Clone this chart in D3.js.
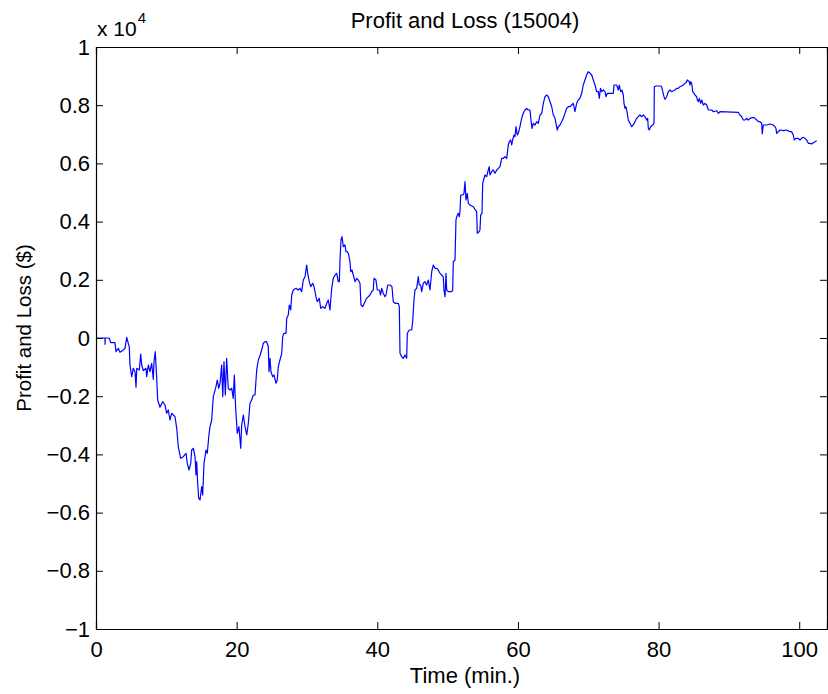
<!DOCTYPE html>
<html>
<head>
<meta charset="utf-8">
<script src="https://cdn.jsdelivr.net/npm/d3@7"></script>
<style>
  html, body { margin: 0; padding: 0; background: #fff; }
  svg { display: block; }
  text { font-family: "Liberation Sans", Arial, Helvetica, sans-serif; fill: #000; }
</style>
</head>
<body>
<svg id="chart" width="828" height="694"></svg>
<script>
const titleText = "Profit and Loss (15004)";
const xLabelText = "Time (min.)";
const yLabelText = "Profit and Loss ($)";
const xTicks = [0, 20, 40, 60, 80, 100];
const yTicks = [-10000, -8000, -6000, -4000, -2000, 0, 2000, 4000, 6000, 8000, 10000];
const xDomain = [0, 103.95];
const yDomain = [-10000, 10000];

// time (minutes)
const time = [
0,1.28,1.28,1.32,1.89,2.09,2.70,2.84,3.17,3.41,3.88,4.12,4.37,4.59,4.73,4.83,5.08,5.30,5.55,5.69,
5.79,6.16,6.36,6.50,6.73,7.11,7.21,7.44,7.68,7.92,8.15,8.25,8.43,8.63,8.77,9.10,9.48,9.81,10.05,10.28,
10.52,10.76,11.23,11.48,11.70,12.04,12.41,12.80,12.98,13.22,13.47,13.61,13.84,14.08,14.22,14.32,14.46,14.60,14.79,15.03,
15.17,15.36,15.64,15.83,16.03,16.21,16.45,16.68,17.06,17.25,17.45,17.63,17.87,18.02,18.20,18.39,18.58,18.81,19.05,19.30,
19.52,19.67,19.86,20.09,20.33,20.58,20.72,20.95,21.19,21.43,21.66,21.90,22.14,22.37,22.61,22.85,23.08,23.32,23.56,23.79,
24.03,24.27,24.50,24.60,24.74,24.88,25.13,25.31,25.60,25.78,25.92,26.16,26.41,26.55,26.73,27.02,27.12,27.34,27.49,27.69,
27.83,28.06,28.44,28.77,29.01,29.25,29.48,29.72,29.96,30.10,30.33,30.53,30.81,31.00,31.28,31.47,31.75,31.95,32.24,32.56,
32.81,33.03,33.27,33.52,33.74,33.99,34.23,34.45,34.60,34.70,34.84,34.98,35.17,35.41,35.55,35.73,35.88,36.12,36.22,36.40,
36.59,36.83,37.07,37.30,37.54,37.68,37.92,38.25,38.49,38.96,39.20,39.43,39.53,39.81,40.00,40.29,40.48,40.62,40.85,41.09,
41.24,41.48,41.81,42.09,42.27,42.52,42.99,43.13,43.23,43.47,43.70,43.94,44.18,44.27,44.55,44.89,45.03,45.22,45.36,45.60,
45.83,45.97,46.17,46.31,46.54,46.78,47.02,47.25,47.49,47.74,47.96,48.21,48.45,48.67,48.92,49.38,49.48,49.63,49.77,49.87,
50.10,50.58,50.72,50.81,51.05,51.19,51.29,51.52,51.66,51.76,51.86,52.14,52.33,52.47,52.61,52.80,52.94,53.18,53.65,53.89,
54.13,54.22,54.46,54.60,54.70,54.89,54.99,55.31,55.56,55.78,55.92,56.02,56.27,56.49,56.74,56.98,57.21,57.45,57.69,57.92,
58.16,58.40,58.49,58.63,58.77,58.97,59.11,59.25,59.44,59.58,59.72,59.91,60.05,60.29,60.53,60.67,60.86,61.00,61.24,61.47,
61.71,61.86,62.00,62.18,62.42,62.67,62.89,63.14,63.38,63.61,63.85,64.09,64.32,64.56,64.80,65.03,65.27,65.41,65.60,65.74,
65.98,66.22,66.45,66.69,66.93,67.16,67.40,67.64,67.87,68.11,68.35,68.58,68.82,69.06,69.29,69.53,69.77,70.00,70.25,70.49,
70.72,70.96,71.20,71.43,71.57,71.74,71.91,72.14,72.38,72.52,72.71,73.09,73.56,73.66,74.04,74.27,74.41,74.61,74.80,74.98,
75.08,75.22,75.36,75.55,75.69,75.93,76.17,76.40,76.64,76.88,77.11,77.35,77.60,77.83,78.07,78.31,78.45,78.54,78.68,78.88,
79.16,79.35,79.40,79.64,79.96,80.30,80.44,80.59,80.77,80.91,81.15,81.38,81.62,81.86,82.09,82.33,82.57,82.80,83.04,83.28,
83.52,83.76,83.90,84.08,84.37,84.47,84.57,84.71,84.85,85.04,85.18,85.42,85.51,85.65,85.79,85.99,86.14,86.37,86.61,86.85,
87.08,87.56,87.79,88.27,88.50,88.73,91.33,91.57,91.82,92.05,92.29,92.53,92.76,93.00,93.47,93.71,93.95,94.18,94.42,94.66,
94.74,94.89,95.36,95.84,96.31,96.55,96.69,96.79,97.02,97.26,97.73,98.21,98.68,98.92,99.15,99.29,99.53,99.86,100.10,100.34,
100.57,100.82,101.06,101.29,101.53,101.77,102.00,102.24,102.48
];

// profit and loss ($)
const pnl = [
0,0,-216,0,0,-160,-160,-470,-354,-491,-412,-354,24,-182,-299,-928,-1330,-1041,-1158,-1694,
-1041,-1100,-550,-928,-1124,-1041,-1330,-928,-1158,-869,-1419,-814,-471,-1385,-2130,-2381,-2189,-2302,-2587,-2474,
-2818,-2587,-2704,-3103,-3735,-4134,-4079,-3962,-4306,-4536,-4306,-3849,-3790,-4079,-4708,-4251,-4993,-5508,-5567,-5110,
-5395,-4306,-3849,-3962,-3392,-3048,-2818,-2017,-1673,-1443,-1728,-1557,-928,-2017,-814,-1959,-698,-1728,-1787,-1728,
-2072,-1271,-2416,-3275,-3048,-3790,-2990,-2646,-3048,-3333,-2931,-2244,-2130,-1959,-1959,-1100,-756,-600,-412,-182,
-127,-127,-299,-1158,-698,-1158,-1330,-1271,-1557,-1443,-986,-756,-526,45,161,161,677,790,1134,962,
1478,1649,1708,1649,1708,1591,1993,2106,2508,2223,1935,1763,1880,1763,1419,1247,1364,1021,1076,1021,
1192,1306,962,1708,2051,2165,2223,1935,1935,2680,3367,3481,3137,3196,2965,2965,2910,2622,2278,2337,
2165,1935,2051,1993,1880,1134,1076,1247,1364,1478,1591,1649,2051,1993,1649,1649,1478,1708,1536,1419,
1478,1821,1821,1763,1247,1192,1192,1076,-526,-643,-698,-584,-698,161,275,275,560,1306,1649,1708,
2106,1821,1821,1591,1880,1935,1821,1993,1649,2278,2508,2395,2395,2337,2223,2106,1649,1419,2223,1649,
1591,1591,1649,2622,2680,4055,4168,4285,4168,4340,4914,4914,4972,5371,4742,4972,4629,4570,4512,4422,
4340,3598,3653,3711,4227,4285,5316,5601,5543,5773,5887,5601,5714,5773,5659,5773,5831,5887,6175,6175,
6230,6175,6347,6632,6745,6804,6632,6804,6976,6917,7261,6976,7034,7261,7549,7663,7776,7835,7893,7835,
7835,7491,7206,7378,7319,7433,7378,7663,7721,8065,8292,8350,8292,8120,7948,7663,7549,7378,7147,7261,
7319,7433,7549,7721,7893,7948,7948,8007,8065,7776,8065,8178,8237,8409,8694,8866,9037,9151,9096,9037,
8866,8694,8464,8464,8237,8580,8464,8522,8464,8292,8409,8409,8409,8694,8694,8522,8694,8464,8522,8350,
8065,7893,7948,7721,7491,7378,7261,7319,7433,7549,7605,7663,7605,7663,7605,7491,7549,7206,7147,7261,
7319,7378,8636,8659,8659,8659,8636,8464,8292,8202,8292,8464,8522,8464,8498,8522,8580,8580,8636,8659,
8694,8752,8773,8866,8807,8694,8807,8752,8464,8409,8350,8292,8178,8120,8237,8065,8178,8007,8065,8007,
7835,7835,7776,7810,7721,7776,7756,7663,7605,7491,7491,7549,7491,7549,7584,7549,7491,7433,7433,7378,
7010,7319,7319,7354,7319,7261,7206,7034,7089,7147,7124,7147,7089,7089,6976,6804,6862,6862,6804,6862,
6897,6862,6804,6690,6690,6666,6711,6745,6780
];

const svg = d3.select("#chart");
const margin = { left: 96, top: 47, right: 827, bottom: 629 };

const x = d3.scaleLinear().domain(xDomain).range([margin.left, margin.right]);
const y = d3.scaleLinear().domain(yDomain).range([margin.bottom, margin.top]);

const fs = 22;
const tickLen = 7;

// data line
const data = time.map((t, i) => ({ t: t, v: pnl[i] }));
const line = d3.line().x(d => x(d.t)).y(d => y(d.v));
svg.append("path")
  .datum(data)
  .attr("fill", "none")
  .attr("stroke", "#0000ff")
  .attr("stroke-width", 1.2)
  .attr("stroke-linejoin", "round")
  .attr("d", line);

const fmtY = d => {
  const s = d3.format("")(+(d / 10000).toFixed(1));
  return s.replace("-", "\u2212");
};

// axes (inward ticks, boxed like MATLAB)
const axBottom = d3.axisBottom(x).tickValues(xTicks).tickSize(-tickLen).tickPadding(12).tickFormat(d3.format("d"));
const axTop = d3.axisTop(x).tickValues(xTicks).tickSize(-tickLen).tickFormat("");
const axLeft = d3.axisLeft(y).tickValues(yTicks).tickSize(-tickLen).tickPadding(6).tickFormat(fmtY);
const axRight = d3.axisRight(y).tickValues(yTicks).tickSize(-tickLen).tickFormat("");

function style(g) {
  g.selectAll(".domain").attr("stroke", "#000").attr("stroke-width", 1.2);
  g.selectAll(".tick line").attr("stroke", "#000").attr("stroke-width", 1);
  g.selectAll("text").attr("font-size", fs).attr("font-family", '"Liberation Sans", Arial, sans-serif').attr("fill", "#000");
}

svg.append("g").attr("transform", `translate(0,${margin.bottom})`).call(axBottom).call(style);
svg.append("g").attr("transform", `translate(0,${margin.top})`).call(axTop).call(style);
svg.append("g").attr("transform", `translate(${margin.left},0)`).call(axLeft).call(style);
svg.append("g").attr("transform", `translate(${margin.right},0)`).call(axRight).call(style);

// title
svg.append("text")
  .attr("x", 465)
  .attr("y", 28)
  .attr("text-anchor", "middle")
  .attr("font-size", fs)
  .text(titleText);

// x label
svg.append("text")
  .attr("x", 465)
  .attr("y", 683)
  .attr("text-anchor", "middle")
  .attr("font-size", fs)
  .text(xLabelText);

// y label
svg.append("text")
  .attr("transform", `translate(31,328) rotate(-90)`)
  .attr("text-anchor", "middle")
  .attr("font-size", 20.5)
  .text(yLabelText);

// exponent label "x 10^4"
const expo = svg.append("text")
  .attr("x", 97)
  .attr("y", 36)
  .attr("font-size", 21);
expo.append("tspan").text("x 10");
expo.append("tspan").attr("dy", -13).attr("dx", 1).attr("font-size", 15).text("4");
</script>
</body>
</html>
